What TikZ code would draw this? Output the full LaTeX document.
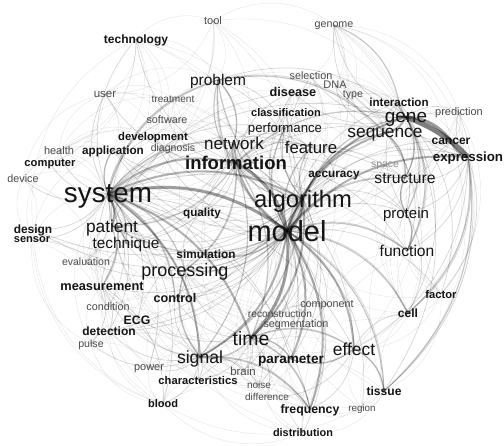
\documentclass[tikz,border=0pt]{standalone}
\usepackage{fontspec}
\setmainfont{Liberation Sans}
\usetikzlibrary{backgrounds}
\definecolor{ink}{HTML}{141414}
\definecolor{mid}{HTML}{4A4A4A}
\definecolor{pale}{HTML}{8C8C8C}
\tikzset{
  w/.style={font=\fontsize{#1}{#1}\selectfont,text=ink,inner sep=0pt,text depth=0pt},
  wb/.style={font=\fontsize{#1}{#1}\selectfont\bfseries,text=ink,inner sep=0pt,text depth=0pt},
  ws/.style={font=\fontsize{#1}{#1}\selectfont,text=mid,inner sep=0pt,text depth=0pt},
  e1/.style={draw=black,draw opacity=.10,line width=.4pt,bend left=34},
  e2/.style={draw=black,draw opacity=.16,line width=.7pt,bend left=30},
  e3/.style={draw=black,draw opacity=.22,line width=1.2pt,bend left=28},
  e4/.style={draw=black,draw opacity=.30,line width=2pt,bend left=26},
  e5/.style={draw=black,draw opacity=.38,line width=3pt,bend left=24},
}
% draw every pair of a list as a curved link between word centres
\newcommand\wordlinks[2]{%
  \foreach \a/\b in {#2}{\draw[#1] (\a.center) to[#1] (\b.center);}}

\begin{document}
\begin{tikzpicture}[x=1pt,y=-1pt]
\useasboundingbox (0,0) rectangle (504,446);

% words
\node[ws=11] (tool) at (213,21) {tool};
\node[wb=12] (technology) at (136,39) {technology};
\node[ws=10.7] (genome) at (334,25) {genome};
\node[ws=10.8] (selection) at (311,76) {selection};
\node[ws=11] (DNA) at (335,85) {DNA};
\node[ws=10.6] (type) at (353,94) {type};
\node[w=15.5] (problem) at (218,80) {problem};
\node[ws=11.5] (user) at (105,94) {user};
\node[ws=10.1] (treatment) at (173,99) {treatment};
\node[wb=12.7] (disease) at (293,92) {disease};
\node[wb=11.6] (interaction) at (399,102) {interaction};
\node[ws=11] (prediction) at (459,112) {prediction};
\node[wb=11] (classification) at (286,113) {classification};
\node[w=19] (gene) at (406,117) {gene};
\node[ws=10.8] (software) at (167,120) {software};
\node[w=13.2] (performance) at (285,128) {performance};
\node[w=17.3] (sequence) at (385,133) {sequence};
\node[wb=12] (cancer) at (451,141) {cancer};
\node[wb=11.3] (development) at (153,136) {development};
\node[w=17] (network) at (234,143) {network};
\node[w=16.8] (feature) at (311,147) {feature};
\node[wb=13.3] (expression) at (468,157) {expression};
\node[ws=11] (health) at (59,151) {health};
\node[wb=11.7] (application) at (113,150) {application};
\node[ws=10.5] (diagnosis) at (173,148) {diagnosis};
\node[wb=11.2] (computer) at (50,163) {computer};
\node[wb=18.5] (information) at (236,163) {information};
\node[ws=10.8] (device) at (23,179) {device};
\node[wb=11.8] (accuracy) at (334,174) {accuracy};
\node[ws=10.4,text=pale] (space) at (385,165) {space};
\node[w=15.7] (structure) at (405,178) {structure};
\node[w=27.8] (system) at (108,194) {system};
\node[w=23.8] (algorithm) at (303,199) {algorithm};
\node[wb=11.7] (quality) at (202,212) {quality};
\node[w=15] (protein) at (406,213) {protein};
\node[wb=11.9] (design) at (33,229) {design};
\node[wb=11] (sensor) at (32,240) {sensor};
\node[w=17.3] (patient) at (112,226) {patient};
\node[w=29] (model) at (287,231) {model};
\node[w=15.4] (technique) at (126,243) {technique};
\node[wb=11.8] (simulation) at (206,254) {simulation};
\node[w=15.6] (function) at (407,251) {function};
\node[ws=10.5] (evaluation) at (86,262) {evaluation};
\node[w=18] (processing) at (185,270) {processing};
\node[wb=12.8] (measurement) at (102,286) {measurement};
\node[wb=12.6] (control) at (175,298) {control};
\node[wb=11.2] (factor) at (441,294) {factor};
\node[ws=10.8] (component) at (327,304) {component};
\node[ws=10.8] (condition) at (108,307) {condition};
\node[ws=10.2] (reconstruction) at (280,314) {reconstruction};
\node[wb=12] (cell) at (408,313) {cell};
\node[wb=12.3] (ECG) at (137,320) {ECG};
\node[ws=10.8] (segmentation) at (296,324) {segmentation};
\node[wb=12] (detection) at (109,331) {detection};
\node[w=19.4] (time) at (251,338) {time};
\node[ws=10.6] (pulse) at (91,344) {pulse};
\node[w=17.4] (effect) at (354,349) {effect};
\node[w=17.6] (signal) at (200,357) {signal};
\node[wb=13.6] (parameter) at (291,359) {parameter};
\node[ws=11] (power) at (149,368) {power};
\node[ws=11.4] (brain) at (243,371) {brain};
\node[wb=11.2] (characteristics) at (198,380) {characteristics};
\node[ws=10] (noise) at (259,385) {noise};
\node[wb=12.1] (tissue) at (384,391) {tissue};
\node[ws=10] (difference) at (267,397) {difference};
\node[wb=11] (blood) at (163,404) {blood};
\node[wb=12.3] (frequency) at (310,409) {frequency};
\node[ws=9.8] (region) at (362,408) {region};
\node[wb=10.9] (distribution) at (303,433) {distribution};

\begin{scope}[on background layer]
\fill[white] (0,0) rectangle (504,446);
% faint links
\wordlinks{e1}{technology/tool, tool/genome, tool/problem, tool/user, tool/software, tool/model, tool/system, tool/information, tool/algorithm, tool/development, tool/gene,
design/technology, technology/user, technology/system, technology/information, technology/model, technology/development, technology/application, technology/computer, technology/health, technology/problem, technology/software, technology/algorithm,
genome/prediction, genome/selection, genome/DNA, genome/type, genome/expression, genome/structure, genome/protein, genome/function, genome/algorithm, genome/model, genome/cancer,
prediction/factor, prediction/cell, prediction/tissue, prediction/function, prediction/protein, prediction/structure, prediction/model, prediction/algorithm, prediction/cancer,
factor/tissue, factor/cell, factor/protein, factor/function, factor/model, factor/effect, factor/cancer, factor/structure,
tissue/distribution, tissue/region, tissue/cell, tissue/frequency, tissue/blood, tissue/model, tissue/cancer,
distribution/blood, distribution/frequency, distribution/parameter, distribution/time, distribution/model, distribution/difference, distribution/signal, distribution/system, distribution/function, distribution/effect,
blood/design, blood/pulse, blood/measurement, blood/signal, blood/power, blood/characteristics, blood/time, blood/system, blood/sensor, blood/frequency, blood/detection, blood/model,
pulse/sensor, pulse/detection, pulse/signal, pulse/measurement, pulse/system, pulse/ECG, pulse/frequency, pulse/power,
sensor/device, sensor/system, sensor/measurement, sensor/signal, sensor/detection, sensor/ECG, sensor/computer, sensor/application,
device/computer, device/health, device/system, device/user, device/design, device/measurement, device/application,
health/user, health/computer, health/system, health/application, health/patient, health/information, health/development, health/diagnosis, health/treatment,
user/software, user/system, user/application, user/information, user/computer, user/problem, user/treatment, user/development,
treatment/patient, treatment/disease, treatment/system, treatment/model, treatment/effect, treatment/cancer, treatment/diagnosis,
software/system, software/development, software/application, software/model, software/algorithm, software/information, software/problem,
selection/gene, selection/feature, selection/algorithm, selection/model, selection/classification, selection/sequence,
DNA/gene, DNA/sequence, DNA/structure, DNA/protein, DNA/model,
type/gene, type/cell, type/model, type/system, type/expression, type/disease,
diagnosis/patient, diagnosis/disease, diagnosis/system, diagnosis/model, diagnosis/detection, diagnosis/classification, diagnosis/information,
space/structure, space/model, space/algorithm, space/feature, space/system,
evaluation/system, evaluation/patient, evaluation/model, evaluation/measurement, evaluation/technique, evaluation/quality, evaluation/performance,
condition/system, condition/model, condition/measurement, condition/time, condition/signal, condition/patient, condition/effect,
power/signal, power/frequency, power/system, power/time, power/characteristics, power/model, power/control,
component/model, component/signal, component/system, component/time, component/function, component/structure, component/algorithm, component/processing,
reconstruction/model, reconstruction/algorithm, reconstruction/time, reconstruction/signal, reconstruction/processing, reconstruction/system,
segmentation/algorithm, segmentation/model, segmentation/feature, segmentation/processing, segmentation/signal, segmentation/system,
brain/signal, brain/time, brain/model, brain/tissue, brain/system, brain/network,
noise/signal, noise/time, noise/frequency, noise/model, noise/processing, noise/system,
difference/time, difference/frequency, difference/model, difference/effect, difference/signal, difference/parameter, difference/system,
region/tissue, region/model, region/frequency, region/effect, region/cell, region/time,
cell/gene, cell/protein, cell/function, cell/model, cell/effect, cell/structure, cell/cancer, cell/system, cell/time,
interaction/protein, interaction/model, interaction/system, interaction/structure, interaction/function, interaction/effect,
cancer/model, cancer/cell, cancer/tissue, cancer/system, cancer/classification, cancer/disease,
disease/model, disease/system, disease/patient, disease/gene, disease/algorithm, disease/classification, disease/network,
classification/feature, classification/model, classification/system, classification/accuracy, classification/performance, classification/signal,
ECG/detection, ECG/signal, ECG/system, ECG/measurement, ECG/time, ECG/algorithm,
characteristics/signal, characteristics/time, characteristics/system, characteristics/model, characteristics/parameter, characteristics/frequency, characteristics/effect,
frequency/effect, frequency/parameter, frequency/system, frequency/algorithm, frequency/processing,
quality/system, quality/model, quality/information, quality/processing, quality/algorithm, quality/performance, quality/patient,
accuracy/model, accuracy/algorithm, accuracy/system, accuracy/feature, accuracy/performance, accuracy/classification, accuracy/time}
% light links
\wordlinks{e2}{system/computer, system/application, system/development, system/health, system/device, system/technology, system/user, system/software, system/design, system/sensor, system/evaluation, system/measurement, system/detection, system/ECG, system/condition, system/control, system/quality, system/simulation, system/performance, system/feature, system/problem, system/gene, system/structure, system/function, system/parameter, system/effect, system/frequency, system/characteristics, system/blood, system/power,
model/problem, model/performance, model/classification, model/disease, model/interaction, model/cancer, model/structure, model/protein, model/function, model/cell, model/factor, model/tissue, model/frequency, model/distribution, model/region, model/brain, model/noise, model/component, model/reconstruction, model/segmentation, model/control, model/measurement, model/detection, model/development, model/application, model/design, model/evaluation, model/technique, model/quality, model/accuracy, model/simulation,
algorithm/classification, algorithm/accuracy, algorithm/selection, algorithm/segmentation, algorithm/reconstruction, algorithm/detection, algorithm/quality, algorithm/simulation, algorithm/technique, algorithm/patient, algorithm/parameter, algorithm/protein, algorithm/structure, algorithm/prediction, algorithm/expression, algorithm/development, algorithm/application, algorithm/design, algorithm/control,
information/technology, information/application, information/development, information/software, information/user, information/feature, information/performance, information/quality, information/technique, information/processing, information/sequence, information/structure, information/protein, information/function, information/expression, information/disease, information/parameter, information/effect,
gene/DNA, gene/type, gene/prediction, gene/cell, gene/factor, gene/tissue, gene/disease, gene/function, gene/structure, gene/genome, gene/selection,
expression/cell, expression/factor, expression/tissue, expression/prediction, expression/function, expression/protein, expression/structure, expression/interaction, expression/effect,
sequence/structure, sequence/protein, sequence/DNA, sequence/genome, sequence/function, sequence/interaction, sequence/feature,
protein/function, protein/structure, protein/interaction, protein/cell,
time/frequency, time/parameter, time/effect, time/processing, time/brain, time/noise, time/component, time/reconstruction, time/control, time/measurement, time/characteristics, time/difference,
signal/frequency, signal/noise, signal/ECG, signal/detection, signal/measurement, signal/characteristics, signal/power, signal/brain, signal/processing, signal/control, signal/pulse, signal/blood,
effect/tissue, effect/parameter, effect/cell, effect/frequency, effect/difference,
problem/network, problem/sequence, problem/algorithm, problem/gene, problem/performance,
network/feature, network/performance, network/patient, network/technique,
feature/classification, feature/accuracy, feature/performance, feature/detection,
patient/technique, patient/measurement, patient/treatment, patient/diagnosis, patient/disease,
processing/technique, processing/simulation, processing/control, processing/quality,
measurement/detection, measurement/technique, measurement/blood, measurement/pulse}
% medium links
\wordlinks{e3}{system/processing, system/technique, system/network, system/control, system/measurement, system/problem, system/application,
model/feature, model/patient, model/processing, model/simulation, model/structure, model/function, model/problem, model/performance, model/tissue, model/cell,
algorithm/feature, algorithm/performance, algorithm/network, algorithm/problem, algorithm/information, algorithm/processing, algorithm/gene, algorithm/sequence, algorithm/signal,
information/patient, information/problem, information/gene, information/time, information/processing, information/signal,
gene/interaction, gene/protein, gene/structure, gene/function, genome/interaction,
expression/cell, expression/tissue,
sequence/structure, protein/structure, protein/function,
time/signal, time/frequency, time/parameter, time/effect, signal/processing, signal/frequency,
effect/tissue, effect/parameter, problem/sequence, problem/network, patient/technique}
% strong links
\wordlinks{e4}{system/algorithm, system/information, model/signal, model/gene, model/expression, model/parameter, model/effect, algorithm/time, gene/sequence, expression/cancer, system/signal, system/patient, model/sequence, information/network, model/network, system/time, model/frequency}
% heaviest links
\wordlinks{e5}{system/model, information/model, model/time, algorithm/model, gene/cancer}
\draw[draw=black,draw opacity=.5,line width=5pt] (gene.center) to[bend left=12] (expression.center);
\end{scope}
\end{tikzpicture}
\end{document}
